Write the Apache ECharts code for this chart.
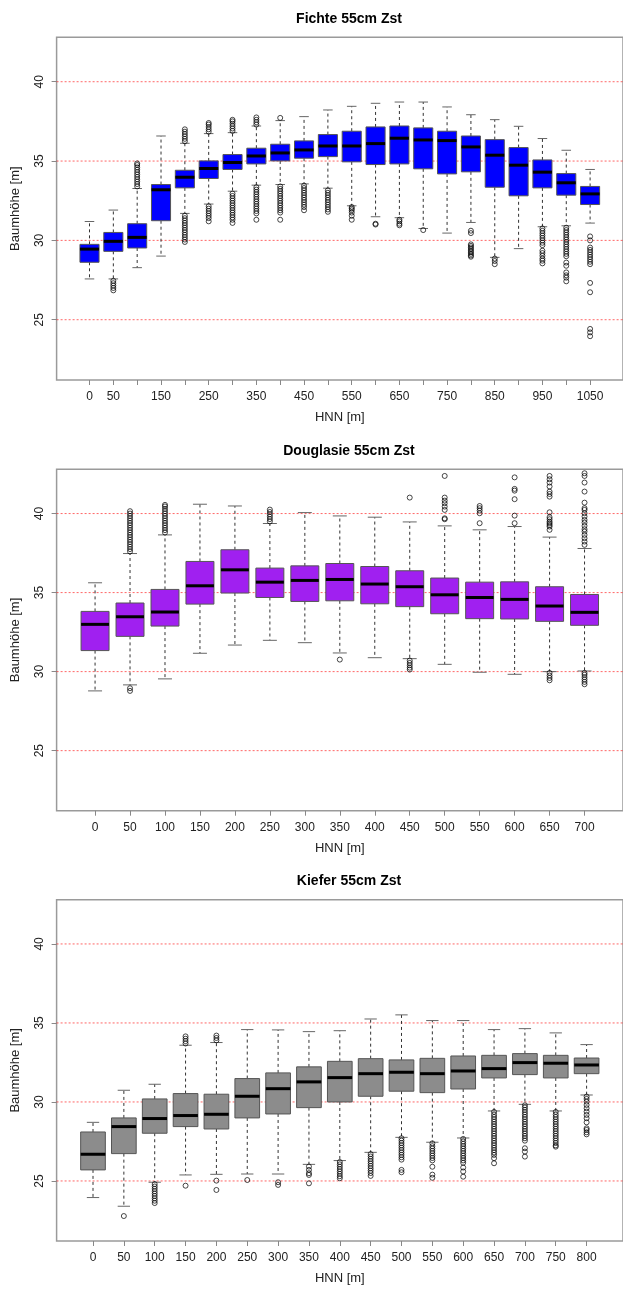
<!DOCTYPE html>
<html><head><meta charset="utf-8">
<script src="https://cdn.jsdelivr.net/npm/echarts@6/dist/echarts.min.js"></script>
<style>html,body{margin:0;padding:0;background:#fff}#c{width:623px;height:1289px}</style>
</head><body><div id="c"></div>
<script>
// ---------- DATA ----------
const yTicks = [25, 30, 35, 40];
const refLines = [25, 30, 35, 40];

const fichteTitle = 'Fichte 55cm Zst';
const fichteCats = ['0','50','100','150','200','250','300','350','400','450','500','550','600','650','700','750','800','850','900','950','1000','1050'];
const fichteTickLabels = ['0','50','150','250','350','450','550','650','750','850','950','1050'];
// [lower whisker, Q1, median, Q3, upper whisker]
const fichteStats = [
  [27.57, 28.62, 29.45, 29.75, 31.19],
  [27.57, 29.31, 29.94, 30.50, 31.91],
  [28.28, 29.52, 30.19, 31.05, 33.27],
  [29.01, 31.24, 33.19, 33.52, 36.58],
  [31.70, 33.31, 33.98, 34.42, 36.12],
  [32.29, 33.90, 34.53, 35.01, 36.73],
  [33.10, 34.47, 34.91, 35.41, 36.79],
  [33.48, 34.82, 35.32, 35.81, 37.21],
  [33.52, 35.01, 35.51, 36.06, 37.55],
  [33.56, 35.18, 35.70, 36.27, 37.80],
  [33.29, 35.28, 35.95, 36.67, 38.22],
  [32.18, 34.95, 35.95, 36.88, 38.45],
  [31.49, 34.78, 36.10, 37.15, 38.64],
  [31.43, 34.82, 36.44, 37.21, 38.72],
  [30.75, 34.51, 36.33, 37.09, 38.72],
  [30.46, 34.19, 36.29, 36.88, 38.41],
  [31.13, 34.32, 35.89, 36.58, 37.92],
  [28.93, 33.35, 35.37, 36.35, 37.61],
  [29.48, 32.81, 34.74, 35.85, 37.19],
  [30.86, 33.31, 34.30, 35.07, 36.42],
  [30.92, 32.85, 33.63, 34.21, 35.68],
  [31.09, 32.26, 32.93, 33.40, 34.47]
];
const fichteOutliers = [
  ['50',  [27.45, 27.3, 27.15, 27.0, 26.85]],
  ['100', [33.4, 33.55, 33.7, 33.85, 34.0, 34.15, 34.3, 34.45, 34.6, 34.75, 34.85]],
  ['200', [36.25, 36.4, 36.55, 36.7, 36.85, 37.0, 31.55, 31.4, 31.25, 31.1, 30.95, 30.8, 30.65, 30.5, 30.35, 30.2, 30.05, 29.9]],
  ['250', [36.85, 37.0, 37.15, 37.3, 37.4, 32.15, 32.0, 31.85, 31.7, 31.55, 31.4, 31.2]],
  ['300', [36.9, 37.05, 37.2, 37.35, 37.5, 37.6, 32.95, 32.8, 32.65, 32.5, 32.35, 32.2, 32.05, 31.9, 31.75, 31.6, 31.45, 31.3, 31.1]],
  ['350', [37.3, 37.45, 37.6, 37.75, 33.35, 33.2, 33.05, 32.9, 32.75, 32.6, 32.45, 32.3, 32.15, 32.0, 31.85, 31.7, 31.3]],
  ['400', [37.72, 33.4, 33.25, 33.1, 32.95, 32.8, 32.65, 32.5, 32.35, 32.2, 32.05, 31.9, 31.75, 31.3]],
  ['450', [33.45, 33.3, 33.15, 33.0, 32.85, 32.7, 32.55, 32.4, 32.25, 32.1, 31.9]],
  ['500', [33.15, 33.0, 32.85, 32.7, 32.55, 32.4, 32.25, 32.1, 31.95, 31.8]],
  ['550', [32.1, 32.0, 31.9, 31.75, 31.55, 31.3]],
  ['600', [31.05, 31.0]],
  ['650', [31.3, 31.2, 31.05, 30.95]],
  ['700', [30.65]],
  ['800', [30.61, 30.46, 29.75, 29.65, 29.55, 29.45, 29.35, 29.25, 29.15, 29.05, 28.97]],
  ['850', [28.85, 28.7, 28.5]],
  ['950', [30.75, 30.6, 30.45, 30.3, 30.15, 30.0, 29.85, 29.7, 29.35, 29.2, 29.03, 28.85, 28.72, 28.55]],
  ['1000', [30.8, 30.65, 30.5, 30.35, 30.2, 30.05, 29.9, 29.75, 29.6, 29.45, 29.3, 29.15, 29.0, 28.6, 28.4, 27.98, 27.8, 27.65, 27.42]],
  ['1050', [30.25, 30.0, 29.55, 29.4, 29.25, 29.1, 28.95, 28.8, 28.65, 28.5, 27.32, 26.73, 24.42, 24.2, 23.96]]
];

const douglasTitle = 'Douglasie 55cm Zst';
const douglasCats = ['0','50','100','150','200','250','300','350','400','450','500','550','600','650','700'];
const douglasTickLabels = douglasCats;
const douglasStats = [
  [28.78, 31.33, 32.99, 33.81, 35.62],
  [29.16, 32.23, 33.47, 34.34, 37.47],
  [29.54, 32.88, 33.77, 35.20, 38.65],
  [31.16, 34.27, 35.43, 36.97, 40.59],
  [31.68, 34.97, 36.44, 37.71, 40.48],
  [31.98, 34.69, 35.66, 36.55, 39.37],
  [31.83, 34.44, 35.77, 36.69, 40.06],
  [31.18, 34.48, 35.83, 36.84, 39.85],
  [30.88, 34.29, 35.54, 36.65, 39.77],
  [30.82, 34.11, 35.37, 36.38, 39.47],
  [30.46, 33.66, 34.86, 35.92, 39.22],
  [29.96, 33.35, 34.69, 35.66, 38.97],
  [29.83, 33.33, 34.57, 35.68, 39.18],
  [30.00, 33.18, 34.15, 35.37, 38.51],
  [30.04, 32.93, 33.75, 34.88, 37.79]
];
const douglasOutliers = [
  ['50',  [37.6, 37.75, 37.9, 38.05, 38.2, 38.35, 38.5, 38.65, 38.8, 38.95, 39.1, 39.25, 39.4, 39.55, 39.7, 39.85, 40.0, 40.15, 28.95, 28.78]],
  ['100', [38.8, 38.95, 39.1, 39.25, 39.4, 39.55, 39.7, 39.85, 40.0, 40.15, 40.3, 40.45, 40.55]],
  ['250', [39.5, 39.65, 39.8, 39.95, 40.1, 40.25]],
  ['350', [30.76]],
  ['450', [41.01, 30.7, 30.55, 30.4, 30.25, 30.13]],
  ['500', [39.64, 39.7, 40.23, 40.44, 40.65, 40.82, 41.01, 42.38]],
  ['550', [39.39, 40.02, 40.19, 40.34, 40.48]],
  ['600', [39.39, 39.87, 40.91, 41.45, 41.56, 42.29]],
  ['650', [38.97, 39.18, 39.28, 39.39, 39.49, 39.64, 39.77, 40.08, 41.07, 41.24, 41.39, 41.71, 41.96, 42.17, 42.38, 29.92, 29.75, 29.6, 29.45]],
  ['700', [38.02, 38.23, 38.44, 38.65, 38.86, 39.01, 39.22, 39.43, 39.6, 39.81, 40.02, 40.23, 40.34, 40.69, 41.39, 41.96, 42.38, 42.55, 29.92, 29.8, 29.65, 29.5, 29.35, 29.2]]
];

const kieferTitle = 'Kiefer 55cm Zst';
const kieferCats = ['0','50','100','150','200','250','300','350','400','450','500','550','600','650','700','750','800'];
const kieferTickLabels = kieferCats;
const kieferStats = [
  [23.95, 25.70, 26.69, 28.10, 28.71],
  [23.40, 26.73, 28.44, 28.99, 30.74],
  [24.92, 28.02, 28.95, 30.19, 31.12],
  [25.38, 28.44, 29.14, 30.53, 33.59],
  [25.42, 28.29, 29.22, 30.49, 33.76],
  [25.44, 28.99, 30.36, 31.48, 34.58],
  [25.44, 29.24, 30.84, 31.84, 34.56],
  [26.05, 29.64, 31.27, 32.22, 34.45],
  [26.29, 30.00, 31.54, 32.57, 34.51],
  [26.81, 30.36, 31.79, 32.74, 35.25],
  [27.76, 30.68, 31.88, 32.66, 35.51],
  [27.45, 30.59, 31.79, 32.76, 35.15],
  [27.72, 30.82, 31.96, 32.91, 35.15],
  [29.43, 31.52, 32.11, 32.95, 34.58],
  [29.85, 31.73, 32.49, 33.06, 34.64],
  [29.43, 31.52, 32.45, 32.95, 34.37],
  [30.44, 31.79, 32.34, 32.78, 33.63]
];
const kieferOutliers = [
  ['50',  [22.78]],
  ['100', [24.8, 24.65, 24.5, 24.35, 24.2, 24.05, 23.9, 23.75, 23.6]],
  ['150', [33.7, 33.85, 34.0, 34.15, 24.70]],
  ['200', [33.9, 34.05, 34.2, 25.02, 24.43]],
  ['250', [25.06]],
  ['300', [24.92, 24.75]],
  ['350', [25.91, 25.7, 25.49, 25.38, 24.85]],
  ['400', [26.2, 26.05, 25.9, 25.75, 25.6, 25.45, 25.3, 25.17]],
  ['450', [26.7, 26.55, 26.4, 26.25, 26.1, 25.95, 25.8, 25.65, 25.5, 25.32]],
  ['500', [27.7, 27.55, 27.4, 27.25, 27.1, 26.95, 26.8, 26.65, 26.5, 26.35, 25.7, 25.55]],
  ['550', [27.38, 27.2, 27.05, 26.9, 26.75, 26.6, 26.45, 26.3, 25.9, 25.4, 25.2]],
  ['600', [27.66, 27.5, 27.35, 27.2, 27.05, 26.9, 26.75, 26.6, 26.45, 26.3, 26.15, 25.85, 25.6, 25.27]],
  ['650', [29.37, 29.2, 29.05, 28.9, 28.75, 28.6, 28.45, 28.3, 28.15, 28.0, 27.85, 27.7, 27.55, 27.4, 27.25, 27.1, 26.95, 26.8, 26.65, 26.44, 26.12]],
  ['700', [29.79, 29.65, 29.5, 29.35, 29.2, 29.05, 28.9, 28.75, 28.6, 28.45, 28.3, 28.15, 28.0, 27.85, 27.7, 27.55, 27.07, 26.86, 26.54]],
  ['750', [29.37, 29.2, 29.05, 28.9, 28.75, 28.6, 28.45, 28.3, 28.15, 28.0, 27.85, 27.7, 27.55, 27.4, 27.25, 27.17]],
  ['800', [30.34, 30.19, 30.02, 29.81, 29.6, 29.39, 29.18, 28.97, 28.71, 28.33, 28.23, 28.08, 27.95]]
];

// ---------- CHART ----------
const panels = [
  {title: fichteTitle, cats: fichteCats, labels: fichteTickLabels, stats: fichteStats, outl: fichteOutliers, color: '#0000ff', top: 37.3, height: 342.7, titleTop: 7},
  {title: douglasTitle, cats: douglasCats, labels: douglasTickLabels, stats: douglasStats, outl: douglasOutliers, color: '#a020f0', top: 469.3, height: 341.4, titleTop: 439},
  {title: kieferTitle, cats: kieferCats, labels: kieferTickLabels, stats: kieferStats, outl: kieferOutliers, color: '#8c8c8c', top: 899.7, height: 341.3, titleTop: 869}
];
const FONT = "'Liberation Sans', Arial, sans-serif";
const plotLeft = 56.6, plotWidth = 574.8;

function renderBox(params, api) {
  const x = api.value(0);
  const lo = api.value(1), q1 = api.value(2), md = api.value(3), q3 = api.value(4), hi = api.value(5);
  const bw = api.size([1, 0])[0] * 0.8;
  const half = bw / 2, cap = bw / 4;
  const pLo = api.coord([x, lo]), pQ1 = api.coord([x, q1]), pMd = api.coord([x, md]), pQ3 = api.coord([x, q3]), pHi = api.coord([x, hi]);
  const cx = pMd[0];
  const fill = api.visual('color');
  const dash = {stroke: '#333', lineWidth: 1, lineDash: [3, 3]};
  const capS = {stroke: '#666', lineWidth: 1};
  return {type: 'group', children: [
    {type: 'line', shape: {x1: cx, y1: pQ3[1], x2: cx, y2: pHi[1]}, style: dash},
    {type: 'line', shape: {x1: cx, y1: pQ1[1], x2: cx, y2: pLo[1]}, style: dash},
    {type: 'line', shape: {x1: cx - cap, y1: pHi[1], x2: cx + cap, y2: pHi[1]}, style: capS},
    {type: 'line', shape: {x1: cx - cap, y1: pLo[1], x2: cx + cap, y2: pLo[1]}, style: capS},
    {type: 'rect', shape: {x: cx - half, y: pQ3[1], width: bw, height: pQ1[1] - pQ3[1]}, style: {fill: fill, stroke: '#555', lineWidth: 1}},
    {type: 'line', shape: {x1: cx - half, y1: pMd[1], x2: cx + half, y2: pMd[1]}, style: {stroke: '#000', lineWidth: 3}}
  ]};
}

function renderRef(params, api) {
  const y = api.coord([api.value(0), api.value(1)])[1];
  const cs = params.coordSys;
  return {type: 'line', shape: {x1: cs.x, y1: y, x2: cs.x + cs.width, y2: y},
    style: {stroke: 'rgba(255,0,0,0.6)', lineWidth: 1, lineDash: [2, 2]}};
}

const option = {animation: false, backgroundColor: '#fff', title: [], grid: [], xAxis: [], yAxis: [], series: []};

panels.forEach((p, k) => {
  const n = p.cats.length;
  option.title.push({text: p.title, left: plotLeft + plotWidth / 2, top: p.titleTop, textAlign: 'center',
    textStyle: {fontFamily: FONT, fontSize: 14, fontWeight: 'bold', color: '#000'}});
  option.grid.push({left: plotLeft, top: p.top, width: plotWidth, height: p.height, show: true,
    borderColor: '#9a9a9a', borderWidth: 1.5, backgroundColor: 'transparent', containLabel: false});
  option.xAxis.push({type: 'value', gridIndex: k, min: -0.5 - 0.04 * n, max: n - 0.5 + 0.04 * n,
    name: 'HNN [m]', nameLocation: 'middle', nameGap: 31,
    nameTextStyle: {fontFamily: FONT, fontSize: 13, color: '#222'},
    axisLine: {show: false, onZero: false}, splitLine: {show: false},
    axisTick: {show: true, length: 5, inside: false, customValues: p.cats.map((c, i) => i), lineStyle: {color: '#888'}},
    axisLabel: {show: true, margin: 11, fontFamily: FONT, fontSize: 12, color: '#222',
      customValues: p.labels.map(l => p.cats.indexOf(l)), formatter: v => p.cats[Math.round(v)]}});
  option.yAxis.push({type: 'value', gridIndex: k, min: 21.2, max: 42.8,
    name: 'Baumhöhe [m]', nameLocation: 'middle', nameGap: 35, nameRotate: 90,
    nameTextStyle: {fontFamily: FONT, fontSize: 13, color: '#222'},
    axisLine: {show: false, onZero: false}, splitLine: {show: false},
    axisTick: {show: true, length: 5, inside: false, customValues: yTicks, lineStyle: {color: '#888'}},
    axisLabel: {show: true, rotate: 90, margin: 11, fontFamily: FONT, fontSize: 12, color: '#222', customValues: yTicks}});
  option.series.push({type: 'custom', xAxisIndex: k, yAxisIndex: k, silent: true, z: 1,
    renderItem: renderRef, encode: {x: 0, y: 1},
    data: refLines.map(v => [0, v])});
  option.series.push({type: 'custom', xAxisIndex: k, yAxisIndex: k, z: 2,
    itemStyle: {color: p.color}, renderItem: renderBox,
    encode: {x: 0, y: [1, 2, 3, 4, 5]},
    data: p.stats.map((s, i) => [i].concat(s))});
  const pts = [];
  p.outl.forEach(([cat, vals]) => { const i = p.cats.indexOf(cat); vals.forEach(v => pts.push([i, v])); });
  option.series.push({type: 'scatter', xAxisIndex: k, yAxisIndex: k, z: 3, symbol: 'circle', symbolSize: 5,
    itemStyle: {color: 'rgba(0,0,0,0)', borderColor: '#000', borderWidth: 0.9}, data: pts});
});

const chart = echarts.init(document.getElementById('c'), null, {renderer: 'canvas'});
chart.setOption(option);
</script>
</body></html>
